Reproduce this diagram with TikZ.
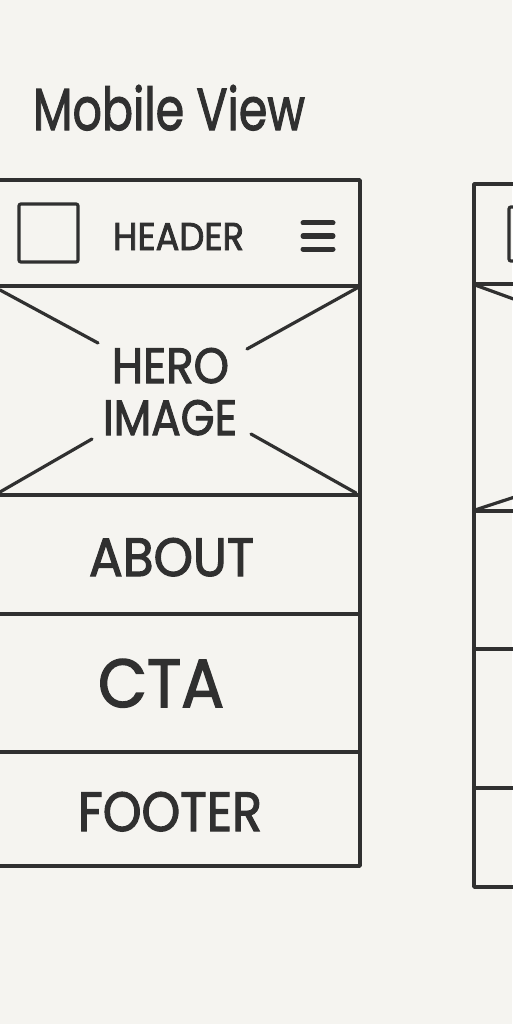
\documentclass[tikz,border=0pt]{standalone}
\usepackage{fontspec}
\setmainfont{Poppins}
\font\labfont="Poppins:embolden=2.2" at 20pt
\font\titlefont="Poppins:embolden=2" at 20pt
\definecolor{paper}{HTML}{F5F4F0}
\definecolor{ink}{HTML}{303030}
\newcommand{\fitbox}[3]{\resizebox{#1pt}{#2pt}{#3}}
\begin{document}
\begin{tikzpicture}[x=1pt,y=-1pt,
  frame/.style={draw=ink,line width=3.6pt,line join=round},
  divider/.style={draw=ink,line width=3.6pt},
  cross/.style={draw=ink,line width=3.2pt,line cap=round},
  logo/.style={draw=ink,line width=3.2pt,rounded corners=2pt},
  burger/.style={draw=ink,line width=5pt,line cap=round},
  label/.style={inner sep=0pt,outer sep=0pt,text=ink,anchor=north west,font=\labfont}]
\useasboundingbox[fill=paper] (0,0) rectangle (512,1024);
% title
\node[label,font=\titlefont] (title) at (33,85) {\fitbox{272}{45}{Mobile View}};
% main frame
\coordinate (fTL) at (-10,180);
\coordinate (fBR) at (360,866);
\draw[frame] (fTL) rectangle (fBR);
\coordinate (d1l) at (-10,286); \coordinate (d1r) at (360,286);
\coordinate (d2l) at (-10,495); \coordinate (d2r) at (360,495);
\coordinate (d3l) at (-10,614); \coordinate (d3r) at (360,614);
\coordinate (d4l) at (-10,752); \coordinate (d4r) at (360,752);
\draw[divider] (d1l) -- (d1r);
\draw[divider] (d2l) -- (d2r);
\draw[divider] (d3l) -- (d3r);
\draw[divider] (d4l) -- (d4r);
% header
\coordinate (lgA) at (19,204); \coordinate (lgB) at (78,262);
\draw[logo] (lgA) rectangle (lgB);
\node[label] (header) at (113,223) {\fitbox{131}{27}{HEADER}};
\coordinate (b1a) at (303,223); \coordinate (b1b) at (333,223);
\coordinate (b2a) at (303,236); \coordinate (b2b) at (333,236);
\coordinate (b3a) at (303,249); \coordinate (b3b) at (333,249);
\draw[burger] (b1a) -- (b1b);
\draw[burger] (b2a) -- (b2b);
\draw[burger] (b3a) -- (b3b);
% hero
\coordinate (h1a) at (0,290); \coordinate (h1b) at (98,343);
\coordinate (h2a) at (357,288); \coordinate (h2b) at (247,349);
\coordinate (h3a) at (0,492); \coordinate (h3b) at (92,439);
\coordinate (h4a) at (356,493); \coordinate (h4b) at (251,434);
\draw[cross] (h1a) -- (h1b);
\draw[cross] (h2a) -- (h2b);
\draw[cross] (h3a) -- (h3b);
\draw[cross] (h4a) -- (h4b);
\node[label] (hero) at (112,348) {\fitbox{117}{35}{HERO}};
\node[label] (image) at (103,400) {\fitbox{134}{35}{IMAGE}};
% sections
\node[label] (about) at (89,538) {\fitbox{165}{38}{ABOUT}};
\node[label] (cta) at (98,659) {\fitbox{126}{48}{CTA}};
\node[label] (footer) at (78,792) {\fitbox{184}{39}{FOOTER}};
% second frame (cut off)
\coordinate (gTL) at (474,184);
\coordinate (gBR) at (530,887);
\draw[frame] (gTL) rectangle (gBR);
\coordinate (e1l) at (474,284); \coordinate (e1r) at (530,284);
\coordinate (e2l) at (474,511); \coordinate (e2r) at (530,511);
\coordinate (e3l) at (474,649); \coordinate (e3r) at (530,649);
\coordinate (e4l) at (474,788); \coordinate (e4r) at (530,788);
\draw[divider] (e1l) -- (e1r);
\draw[divider] (e2l) -- (e2r);
\draw[divider] (e3l) -- (e3r);
\draw[divider] (e4l) -- (e4r);
\coordinate (lg2A) at (509,207); \coordinate (lg2B) at (560,261);
\draw[logo] (lg2A) rectangle (lg2B);
\coordinate (k1a) at (475,285); \coordinate (k1b) at (530,305);
\coordinate (k2a) at (475,510); \coordinate (k2b) at (530,492);
\draw[cross] (k1a) -- (k1b);
\draw[cross] (k2a) -- (k2b);
\end{tikzpicture}
\end{document}
